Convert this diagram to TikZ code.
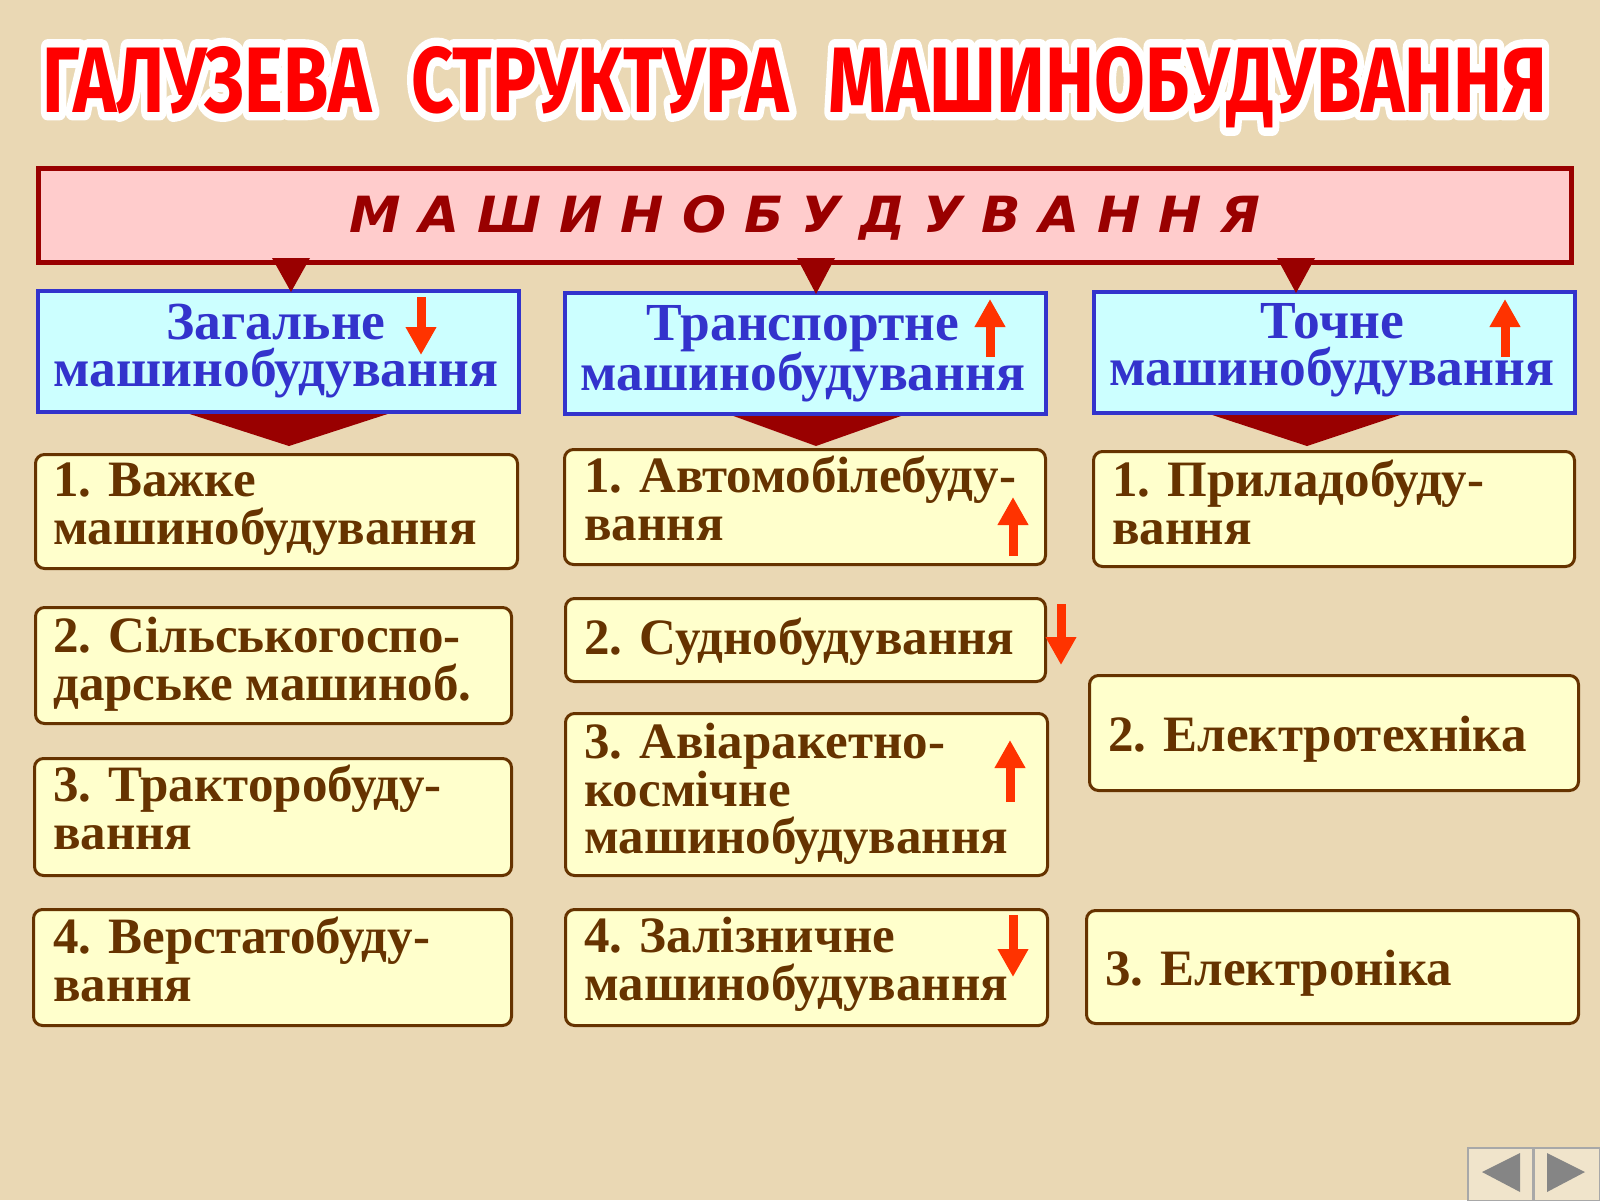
\documentclass[tikz,border=0pt]{standalone}
\usepackage{fontspec}
\usepackage{graphicx}
\setmainfont{Liberation Serif}
\newfontfamily\titlefont{Fira Sans}
\newfontfamily\titleoutlinefont{Fira Sans}[FakeBold=18]
\newfontfamily\capfont{DejaVu Sans}
\usetikzlibrary{arrows.meta,calc}
\definecolor{bgcol}{HTML}{EAD8B4}
\definecolor{darkred}{HTML}{990000}
\definecolor{pinkfill}{HTML}{FFCCCC}
\definecolor{bluetxt}{HTML}{3333CC}
\definecolor{cyanfill}{HTML}{CCFFFF}
\definecolor{browntxt}{HTML}{663300}
\definecolor{yellowfill}{HTML}{FFFFCC}
\definecolor{arrowred}{HTML}{FF3300}
\definecolor{titlered}{HTML}{FF0000}
\definecolor{navgray}{HTML}{858585}
\definecolor{navline}{HTML}{A8A8A8}
\newcommand{\mytitletext}[1]{\resizebox{1504pt}{66pt}{#1\bfseries ГАЛУЗЕВА\hspace{0.3em} СТРУКТУРА\hspace{0.3em} МАШИНОБУДУВАННЯ}}
\begin{document}
\begin{tikzpicture}[x=1pt,y=-1pt,
  topbox/.style={draw=darkred, line width=5pt, fill=pinkfill, inner sep=0, anchor=north west},
  bluebox/.style={draw=bluetxt, line width=4pt, fill=cyanfill, inner sep=0, anchor=north west},
  ybox/.style={draw=browntxt, line width=3pt, fill=yellowfill, rounded corners=9pt, inner sep=0, anchor=north west},
  bluelbl/.style={text=bluetxt, font=\fontsize{53.5}{47}\selectfont\bfseries, align=center, inner sep=0, anchor=north},
  ylbl/.style={text=browntxt, font=\fontsize{51}{47.5}\selectfont\bfseries, align=left, inner sep=0, anchor=north west},
  trend/.style={draw=arrowred, line width=9pt, -{Triangle[width=29pt,length=28pt]}},
  chev/.style={fill=darkred},
  navbtn/.style={draw=navline, line width=2pt, fill=bgcol!70!white, inner sep=0, anchor=north west},
  navtri/.style={fill=navgray}
]
\useasboundingbox (0,0) rectangle (1600,1200);
\fill[bgcol] (0,0) rectangle (1600,1200);

% title with white outline (emboldened white copy behind the red text)
\node[anchor=base, inner sep=0, text=white, line join=round] (titleoutline) at (795,112) {\mytitletext{\titleoutlinefont}};
\node[anchor=base, inner sep=0, text=titlered] (title) at (795,112) {\mytitletext{\titlefont}};

% chevrons under blue boxes (drawn first, top hidden under the box border)
\fill[chev] (171,408) -- (406,408) -- (289,446) -- cycle;
\fill[chev] (717,410) -- (918,410) -- (816,446) -- cycle;
\fill[chev] (1194,409) -- (1418,409) -- (1307,446) -- cycle;

% top box
\node[topbox, minimum width=1533pt, minimum height=94pt] (top) at (36,166) {};
\node[inner sep=0, anchor=base, text=darkred] (toplbl) at (805,232)
  {\resizebox{910pt}{37pt}{\capfont\bfseries\itshape М А Ш И Н О Б У Д У В А Н Н Я}};

% blue boxes
\node[bluebox, minimum width=481pt, minimum height=121pt] (b1) at (36,289) {};
\node[bluebox, minimum width=481pt, minimum height=121pt] (b2) at (563,291) {};
\node[bluebox, minimum width=481pt, minimum height=121pt] (b3) at (1092,290) {};
\node[bluelbl] (b1t) at (276,304) {Загальне\\машинобудування};
\node[bluelbl] (b2t) at (803,305) {Транспортне\\машинобудування};
\node[bluelbl] (b3t) at (1332,303) {Точне\\машинобудування};

% triangles from top box to blue boxes
\fill[chev] (272,258) -- (310,258) -- (291,292) -- cycle;
\fill[chev] (797,258) -- (835,258) -- (816,294) -- cycle;
\fill[chev] (1277,258) -- (1315,258) -- (1296,293) -- cycle;

% yellow boxes column 1
\node[ybox, minimum width=482pt, minimum height=114pt] (v1) at (34,453) {};
\node[ybox, minimum width=476pt, minimum height=116pt] (v2) at (34,606) {};
\node[ybox, minimum width=477pt, minimum height=117pt] (v3) at (33,757) {};
\node[ybox, minimum width=478pt, minimum height=116pt] (v4) at (32,908) {};
\node[ylbl] (v1t) at (53,463) {1. Важке\\машинобудування};
\node[ylbl] (v2t) at (53,617) {2. Сільськогоспо-\\дарське машиноб.};
\node[ylbl] (v3t) at (53,765) {3. Тракторобуду-\\вання};
\node[ylbl] (v4t) at (53,917) {4. Верстатобуду-\\вання};

% yellow boxes column 2
\node[ybox, minimum width=481pt, minimum height=115pt] (t1) at (563,448) {};
\node[ybox, minimum width=480pt, minimum height=83pt] (t2) at (564,597) {};
\node[ybox, minimum width=482pt, minimum height=162pt] (t3) at (564,712) {};
\node[ybox, minimum width=482pt, minimum height=116pt] (t4) at (564,908) {};
\node[ylbl] (t1t) at (584,456) {1. Автомобілебуду-\\вання};
\node[ylbl] (t2t) at (584,618) {2. Суднобудування};
\node[ylbl] (t3t) at (584,723) {3. Авіаракетно-\\космічне\\машинобудування};
\node[ylbl] (t4t) at (584,917) {4. Залізничне\\машинобудування};

% yellow boxes column 3
\node[ybox, minimum width=481pt, minimum height=115pt] (p1) at (1092,450) {};
\node[ybox, minimum width=489pt, minimum height=115pt] (p2) at (1088,674) {};
\node[ybox, minimum width=492pt, minimum height=113pt] (p3) at (1085,909) {};
\node[ylbl] (p1t) at (1112,460) {1. Приладобуду-\\вання};
\node[ylbl] (p2t) at (1108,716) {2. Електротехніка};
\node[ylbl] (p3t) at (1105,950) {3. Електроніка};

% trend arrows
\draw[trend] (421,297) -- (421,355);
\draw[trend] (990,357) -- (990,299);
\draw[trend] (1505,357) -- (1505,299);
\draw[trend] (1013,556) -- (1013,497);
\draw[trend] (1061,604) -- (1061,665);
\draw[trend] (1010,802) -- (1010,740);
\draw[trend] (1013,915) -- (1013,977);

% navigation buttons
\node[navbtn, minimum width=65pt, minimum height=53pt] (navl) at (1467,1147) {};
\node[navbtn, minimum width=66pt, minimum height=53pt] (navr) at (1533,1147) {};
\fill[navtri] (1482,1172) -- (1520,1153) -- (1520,1192) -- cycle;
\fill[navtri] (1547,1153) -- (1547,1192) -- (1585,1172) -- cycle;
\end{tikzpicture}
\end{document}
